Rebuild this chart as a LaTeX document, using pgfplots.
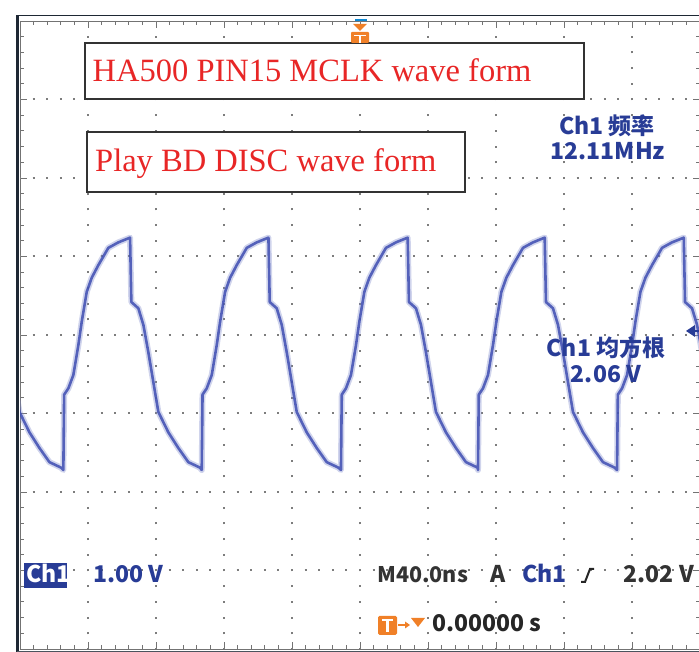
\documentclass[border=0pt]{standalone}
\usepackage{pgfplots}
\pgfplotsset{compat=1.18}
\usepackage{pgfplotstable}
\usepackage{fontspec}
\setmainfont{Liberation Serif}
\newfontfamily\cjk{Noto Sans CJK SC}
\definecolor{trace}{RGB}{62,78,178}
\definecolor{scopeblue}{RGB}{40,60,150}
\definecolor{scopered}{RGB}{232,38,38}
\definecolor{scopeorange}{RGB}{240,128,40}
\definecolor{griddot}{RGB}{125,125,125}
\definecolor{bezel}{RGB}{30,40,52}

\tikzset{
  vgrid/.style={griddot, line width=2pt, dash pattern=on 2pt off 13.7pt, dash phase=1pt},
  hgrid/.style={griddot, line width=2pt, dash pattern=on 2pt off 11.6pt, dash phase=1pt},
  tek/.style={inner sep=0, font=\cjk\bfseries\fontsize{23}{26}\selectfont},
}

% time in ns (40 ns/div, trigger at centre), Ch1 in V (1 V/div)
\pgfplotstableread{
t v
-209.14 2.13
-206.20 1.78
-203.26 1.40
-200.32 1.02
-194.44 0.76
-188.55 0.56
-182.67 0.38
-175.79 0.31
-174.50 0.28
-174.03 1.24
-171.56 1.32
-168.62 1.49
-165.68 1.87
-163.68 2.17
-160.74 2.55
-157.79 2.73
-153.91 2.89
-148.03 3.11
-142.15 3.18
-135.26 3.24
-134.50 2.42
-130.38 2.34
-127.44 2.13
-124.50 1.78
-121.56 1.40
-118.62 1.02
-112.74 0.76
-106.85 0.56
-100.97 0.38
-94.09 0.31
-93.10 0.28
-92.63 1.24
-90.16 1.32
-87.22 1.49
-84.28 1.87
-82.28 2.17
-79.34 2.55
-76.39 2.73
-72.51 2.89
-66.63 3.11
-60.75 3.18
-53.86 3.24
-53.10 2.42
-48.98 2.34
-46.04 2.13
-43.10 1.78
-40.16 1.40
-37.22 1.02
-31.34 0.76
-25.45 0.56
-19.57 0.38
-12.69 0.31
-11.20 0.28
-10.73 1.24
-8.26 1.32
-5.32 1.49
-2.38 1.87
-0.38 2.17
2.56 2.55
5.51 2.73
9.39 2.89
15.27 3.11
21.15 3.18
28.04 3.24
28.80 2.42
32.92 2.34
35.86 2.13
38.80 1.78
41.74 1.40
44.68 1.02
50.56 0.76
56.45 0.56
62.33 0.38
69.21 0.31
69.40 0.28
69.87 1.24
72.34 1.32
75.28 1.49
78.22 1.87
80.22 2.17
83.16 2.55
86.11 2.73
89.99 2.89
95.87 3.11
101.75 3.18
108.64 3.24
109.40 2.42
113.52 2.34
116.46 2.13
119.40 1.78
122.34 1.40
125.28 1.02
131.16 0.76
137.05 0.56
142.93 0.38
149.81 0.31
151.20 0.28
151.67 1.24
154.14 1.32
157.08 1.49
160.02 1.87
162.02 2.17
164.96 2.55
167.91 2.73
171.79 2.89
177.67 3.11
183.55 3.18
190.44 3.24
191.20 2.42
195.32 2.34
198.26 2.13
201.20 1.78
204.14 1.40
}\wave

\begin{document}
\begin{tikzpicture}
\begin{axis}[
  scale only axis, width=680pt, height=628pt,
  xmin=-200, xmax=200, ymin=-2, ymax=6,
  xtick={-200,-160,...,200}, ytick={-2,-1,...,6},
  minor x tick num=4, minor y tick num=4,
  xticklabels={}, yticklabels={},
  major tick length=7pt, minor tick length=4pt,
  tick style={black!55, line width=0.9pt},
  axis line style={black!55, line width=0.8pt},
]
\pgfplotsinvokeforeach{-160,-120,...,160}{
  \draw[vgrid] (axis cs:#1,-2) -- (axis cs:#1,6);
}
\pgfplotsinvokeforeach{-1,0,...,5}{
  \draw[hgrid] (axis cs:-200,#1) -- (axis cs:200,#1);
}
\addplot[trace!70, line width=6pt, opacity=0.35, line join=round] table[x=t,y=v]{\wave};
\addplot[trace, line width=2.6pt, opacity=0.85, line join=round] table[x=t,y=v]{\wave};
\end{axis}

% screen furniture, in pixel units of the screenshot
\begin{scope}[x=1pt,y=-1pt,shift={(-20pt,649pt)}]
\fill[bezel] (16,15) rectangle (19.5,652);
\draw[bezel, line width=1.8pt] (17,15.5) -- (699,15.5);
\draw[bezel!80, line width=1.2pt] (17,651.3) -- (699,651.3);

\draw[fill=white, draw=black!80, line width=1.8pt] (85,43) rectangle (584,99);
\node[anchor=base west, text=scopered, font=\fontsize{32.5}{36}\selectfont, inner sep=0] at (92.5,82) {HA500 PIN15 MCLK wave form};
\draw[fill=white, draw=black!80, line width=1.8pt] (87,132) rectangle (465,192);
\node[anchor=base west, text=scopered, font=\fontsize{32.5}{36}\selectfont, inner sep=0] at (95,172) {Play BD DISC wave form};

\node[tek, anchor=base, text=scopeblue] at (607,135) {Ch1 频率};
\node[tek, anchor=base, text=scopeblue] at (608,160) {12.11MHz};
\node[tek, anchor=base, text=scopeblue] at (606,357) {Ch1 均方根};
\node[tek, anchor=base, text=scopeblue] at (606,383) {2.06 V};

\fill[scopeblue] (24,563) rectangle (67,588);
\node[tek, anchor=base west, text=white] at (26,583) {Ch1};
\node[tek, anchor=base west, text=scopeblue] at (93,583) {1.00 V};
\node[tek, anchor=base west, text=black!80, font=\cjk\bfseries\fontsize{21.5}{26}\selectfont] at (377,583) {M40.0ns};
\node[tek, anchor=base west, text=black!80] at (490,583) {A};
\node[tek, anchor=base west, text=scopeblue] at (522,583) {Ch1};
\draw[black!85, line width=2pt] (581,582) -- (585,582) -- (590,569) -- (594,569);
\node[tek, anchor=base east, text=black!80] at (694,583) {2.02 V};

\fill[scopeorange, rounded corners=1.5pt] (378,616) rectangle (397,635);
\draw[white, line width=2pt] (382,620.5) -- (393,620.5);
\draw[white, line width=2.4pt] (387.5,620.5) -- (387.5,632);
\draw[scopeorange, line width=1.5pt] (398,625) -- (406,625);
\fill[scopeorange] (405,621.5) -- (410,625) -- (405,628.5) -- cycle;
\fill[scopeorange] (411,618) -- (425,618) -- (418,627) -- cycle;
\node[tek, anchor=base west, text=black!85] at (432,632) {0.00000 s};

\draw[cyan!70!blue, line width=2pt] (355,20.5) -- (367,20.5);
\fill[scopeorange] (353,24) -- (367,24) -- (360,31) -- cycle;
\fill[scopeorange, rounded corners=1pt] (351,32) rectangle (369,43);
\draw[white, line width=1.5pt] (354,35.5) -- (366,35.5);
\draw[white, line width=2pt] (360,35.5) -- (360,43);

\fill[scopeblue] (686,331) -- (695,325) -- (695,337) -- cycle;
\draw[scopeblue, line width=2pt] (694,331) -- (699,331);

\pgfresetboundingbox
\path[use as bounding box] (0,0) rectangle (699,652);
\end{scope}
\end{tikzpicture}
\end{document}
